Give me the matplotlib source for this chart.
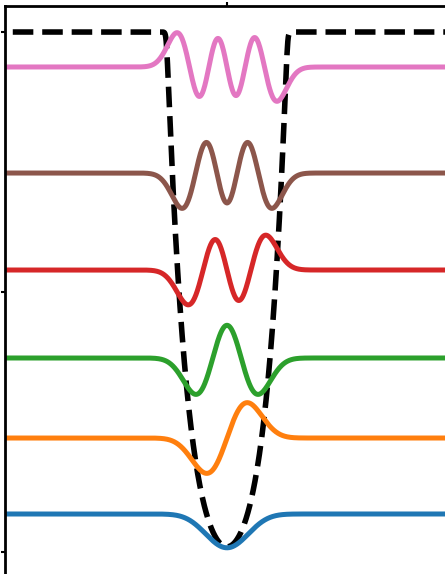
import numpy as np
import matplotlib
matplotlib.use("Agg")
import matplotlib.pyplot as plt

# energy levels (baselines) of the six lowest states, drawn amplitudes and signs
levels = [0.0731, 0.2192, 0.3731, 0.5423, 0.7288, 0.9327]
amplitudes = [0.065, 0.068, 0.070, 0.067, 0.068, 0.066]
first_lobe_sign = [-1, -1, -1, -1, -1, 1]
colors = ["#1f77b4", "#ff7f0e", "#2ca02c", "#d62728", "#8c564b", "#e377c2"]

# well: V = V_min + A (cosh(x/a) - 1), shown capped at V_top
V_top = 1.0
V_min = 0.01
A = 0.12
a = 0.468
C = 0.0154  # hbar^2 / 2m

x = np.linspace(-5, 5, 1001)
dx = x[1] - x[0]
V_wall = V_min + A * (np.cosh(x / a) - 1)

# finite-difference Hamiltonian
main = 2 * C / dx**2 + V_wall
off = -C / dx**2 * np.ones(len(x) - 1)
H = np.diag(main) + np.diag(off, 1) + np.diag(off, -1)
E, psi = np.linalg.eigh(H)

# smooth cap of the wall at V_top
w = 0.035
V_draw = -w * np.logaddexp(-V_wall / w, -V_top / w) + w * np.log(1 + np.exp(-(V_top - V_min) / w))

fig = plt.figure(figsize=(4.45, 5.74), dpi=100)
ax = fig.add_axes([5 / 445, -4 / 574, 444 / 445, 572 / 574])
ax.plot(x, V_draw, color="k", lw=4, linestyle=(3.9, (3.7, 1.6)), zorder=1)
for n in range(6):
    p = psi[:, n]
    p = p / np.max(np.abs(p))
    idx = np.argmax(np.abs(p) > 0.3)
    if np.sign(p[idx]) != first_lobe_sign[n]:
        p = -p
    ax.plot(x, levels[n] + amplitudes[n] * p, color=colors[n], lw=3.6, zorder=2)

ax.set_xlim(-5, 5)
ax.set_ylim(-0.05, 1.05)
ax.set_xticks([0])
ax.set_yticks([0, 0.5, 1.0])
ax.xaxis.tick_top()
ax.tick_params(labelleft=False, labeltop=False, length=3, width=1.5)
for s in ax.spines.values():
    s.set_linewidth(2)

fig.savefig("out.png", dpi=100)
